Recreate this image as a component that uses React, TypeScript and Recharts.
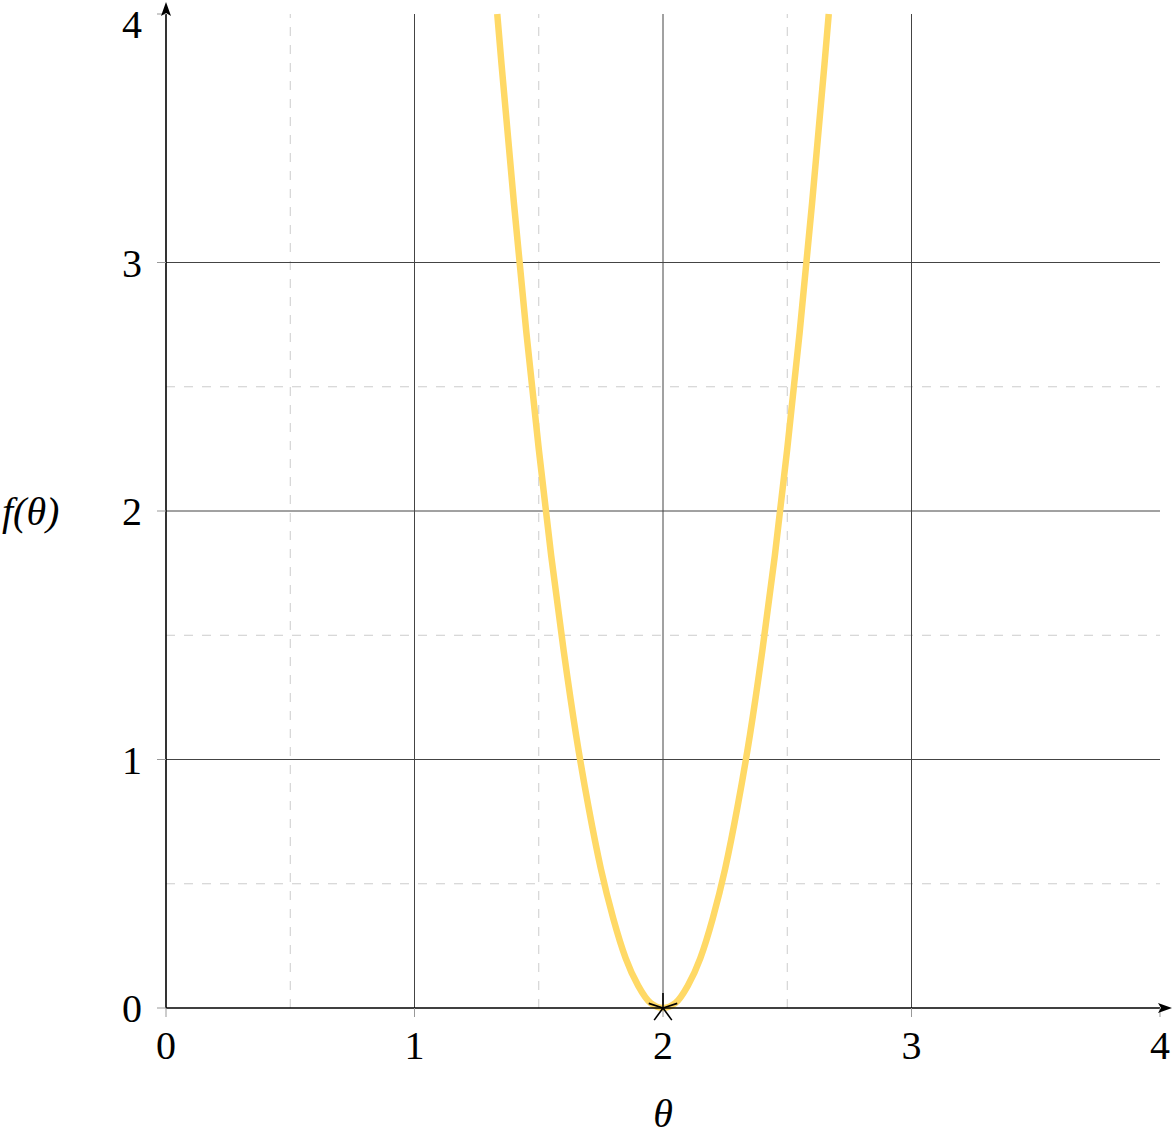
import {
  ComposedChart,
  Line,
  XAxis,
  YAxis,
  ReferenceLine,
  ReferenceDot,
  Label,
} from 'recharts';

// f(theta)
const thetaValues = [
  1.333, 1.35, 1.4, 1.45, 1.5, 1.55, 1.6, 1.65, 1.7, 1.75, 1.8, 1.85, 1.9, 1.95, 2.0,
  2.05, 2.1, 2.15, 2.2, 2.25, 2.3, 2.35, 2.4, 2.45, 2.5, 2.55, 2.6, 2.65, 2.667,
];
const fValues = [
  4.0, 3.8, 3.24, 2.72, 2.25, 1.82, 1.44, 1.1, 0.81, 0.56, 0.36, 0.2, 0.09, 0.02, 0.0,
  0.02, 0.09, 0.2, 0.36, 0.56, 0.81, 1.1, 1.44, 1.82, 2.25, 2.72, 3.24, 3.8, 4.0,
];
const minimumPoint = [{ theta: 2, f: 0 }];

const axisTicks = [0, 1, 2, 3, 4];
const majorGrid = [1, 2, 3];
const minorGrid = [0.5, 1.5, 2.5];

const curveData = thetaValues.map((theta, i) => ({ theta, f: fValues[i] }));

const FONT = 'Liberation Serif';
const CURVE_COLOR = '#FFD966';
const textStyle = { fill: '#000', fontSize: 40, fontFamily: FONT, style: { fontFamily: FONT } };
const labelStyle = { fill: '#000', fontSize: 40, fontFamily: FONT, fontStyle: 'italic' };

function StarMark(props: { cx?: number; cy?: number }) {
  const { cx = 0, cy = 0 } = props;
  const r = 15;
  const angles = [90, 18, 162, -54, 234];
  return (
    <g>
      {angles.map(a => {
        const rad = (a * Math.PI) / 180;
        return (
          <line
            key={a}
            x1={cx}
            y1={cy}
            x2={cx + r * Math.cos(rad)}
            y2={cy - r * Math.sin(rad)}
            stroke="#000"
            strokeWidth={1.6}
          />
        );
      })}
    </g>
  );
}

function ArrowRight(props: { cx?: number; cy?: number }) {
  const { cx = 0, cy = 0 } = props;
  return (
    <path
      d={`M${cx - 2},${cy - 5} L${cx + 12},${cy} L${cx - 2},${cy + 5} L${cx + 1},${cy} Z`}
      fill="#000"
    />
  );
}

function ArrowUp(props: { cx?: number; cy?: number }) {
  const { cx = 0, cy = 0 } = props;
  return (
    <path
      d={`M${cx - 5},${cy + 2} L${cx},${cy - 12} L${cx + 5},${cy + 2} L${cx},${cy - 1} Z`}
      fill="#000"
    />
  );
}

export default function App() {
  return (
    <div style={{ position: 'absolute', left: 0, top: 0, background: '#fff', fontFamily: FONT }}>
      <ComposedChart
        width={1173}
        height={1135}
        data={curveData}
        margin={{ top: 14, right: 13, left: 0, bottom: 0 }}
        style={{ fontFamily: FONT }}
      >
        <XAxis
          type="number"
          dataKey="theta"
          domain={[0, 4]}
          ticks={axisTicks}
          height={127}
          axisLine={{ stroke: '#000', strokeWidth: 1.6 }}
          tickLine={{ stroke: '#999', strokeWidth: 1 }}
          tickSize={9}
          tickMargin={14}
          tick={textStyle}
        >
          <Label value="θ" position="insideBottom" offset={8} style={labelStyle} />
        </XAxis>
        <YAxis
          type="number"
          domain={[0, 4]}
          ticks={axisTicks}
          width={166}
          axisLine={{ stroke: '#000', strokeWidth: 1.6 }}
          tickLine={{ stroke: '#999', strokeWidth: 1 }}
          tickSize={9}
          tickMargin={15}
          tick={textStyle}
        >
          <Label value="f(θ)" position="insideLeft" offset={2} style={labelStyle} />
        </YAxis>

        {minorGrid.map(v => (
          <ReferenceLine key={`mx${v}`} x={v} stroke="#ccc" strokeWidth={1} strokeDasharray="9 9" />
        ))}
        {minorGrid.map(v => (
          <ReferenceLine key={`my${v}`} y={v} stroke="#ccc" strokeWidth={1} strokeDasharray="9 9" />
        ))}
        {majorGrid.map(v => (
          <ReferenceLine key={`Mx${v}`} x={v} stroke="#444" strokeWidth={1} />
        ))}
        {majorGrid.map(v => (
          <ReferenceLine key={`My${v}`} y={v} stroke="#444" strokeWidth={1} />
        ))}

        <Line
          type="monotone"
          dataKey="f"
          stroke={CURVE_COLOR}
          strokeWidth={6.5}
          dot={false}
          activeDot={false}
          isAnimationActive={false}
        />

        {minimumPoint.map(p => (
          <ReferenceDot
            key={`min${p.theta}`}
            x={p.theta}
            y={p.f}
            r={0}
            ifOverflow="visible"
            shape={<StarMark />}
          />
        ))}
        <ReferenceDot x={4} y={0} r={0} ifOverflow="visible" shape={<ArrowRight />} />
        <ReferenceDot x={0} y={4} r={0} ifOverflow="visible" shape={<ArrowUp />} />
      </ComposedChart>
    </div>
  );
}
